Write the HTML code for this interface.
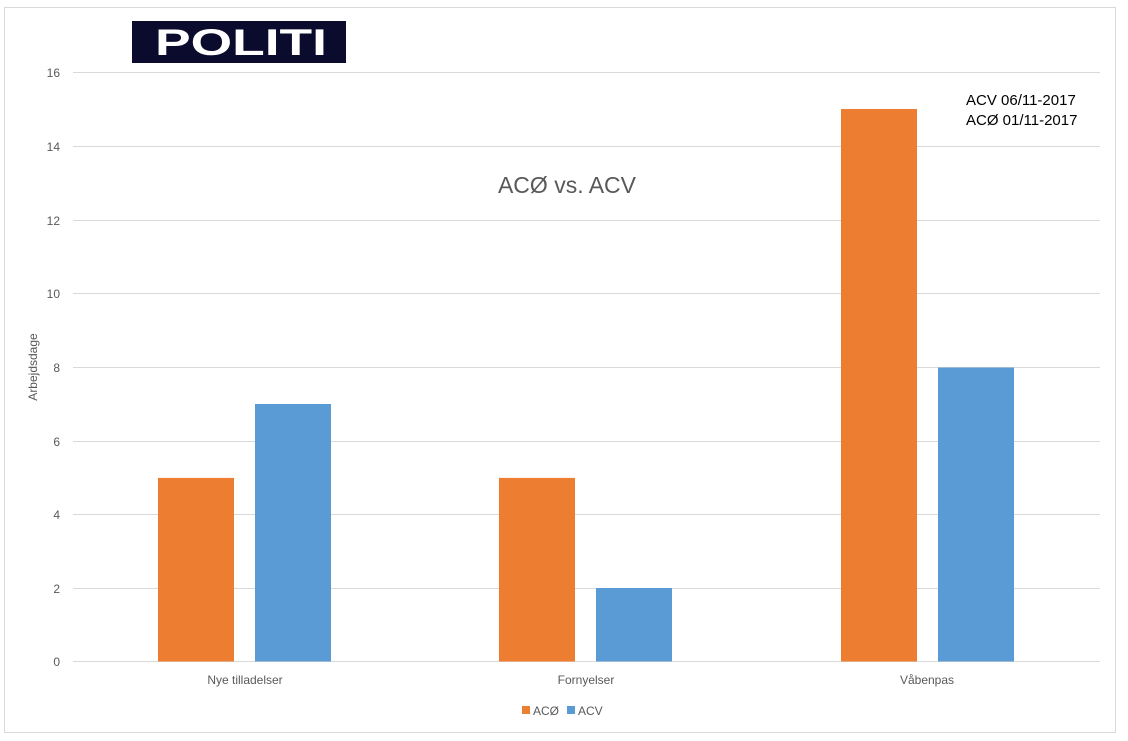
<!DOCTYPE html>
<html><head><meta charset="utf-8"><style>
body{margin:0;background:#fff;}
svg{display:block;font-family:"Liberation Sans",sans-serif;}
</style></head><body>
<svg width="1128" height="741" xmlns="http://www.w3.org/2000/svg">
<rect x="4.5" y="7.5" width="1111" height="725" fill="#fff" stroke="#d9d9d9"/>
<rect x="132" y="21" width="214" height="42" fill="#0b0b2e"/>
<text x="155" y="55" font-size="37" font-weight="bold" fill="#fff" textLength="172" lengthAdjust="spacingAndGlyphs">POLITI</text>
<g stroke="#d9d9d9" stroke-width="1">
<line x1="73" x2="1100" y1="72.5" y2="72.5"/>
<line x1="73" x2="1100" y1="146.5" y2="146.5"/>
<line x1="73" x2="1100" y1="220.5" y2="220.5"/>
<line x1="73" x2="1100" y1="293.5" y2="293.5"/>
<line x1="73" x2="1100" y1="367.5" y2="367.5"/>
<line x1="73" x2="1100" y1="441.5" y2="441.5"/>
<line x1="73" x2="1100" y1="514.5" y2="514.5"/>
<line x1="73" x2="1100" y1="588.5" y2="588.5"/>
<line x1="73" x2="1100" y1="661.5" y2="661.5"/>
</g>
<g font-size="12" fill="#595959" text-anchor="end">
<text x="60" y="77">16</text><text x="60" y="151">14</text><text x="60" y="225">12</text>
<text x="60" y="298">10</text><text x="60" y="372">8</text><text x="60" y="446">6</text>
<text x="60" y="519">4</text><text x="60" y="593">2</text><text x="60" y="666">0</text>
</g>
<text transform="translate(37,367) rotate(-90)" text-anchor="middle" font-size="12" fill="#595959">Arbejdsdage</text>
<g fill="#ed7d31">
<rect x="158" y="477.9" width="76" height="183.6"/>
<rect x="499" y="477.9" width="76" height="183.6"/>
<rect x="841" y="109" width="76" height="552.5"/>
</g>
<g fill="#5b9bd5">
<rect x="255" y="404" width="76" height="257.5"/>
<rect x="596" y="588" width="76" height="73.5"/>
<rect x="938" y="367.5" width="76" height="294"/>
</g>
<g font-size="12" fill="#595959" text-anchor="middle">
<text x="245" y="684">Nye tilladelser</text>
<text x="586" y="684">Fornyelser</text>
<text x="927" y="684">Våbenpas</text>
</g>
<text x="567" y="193" text-anchor="middle" font-size="23" fill="#595959">ACØ vs. ACV</text>
<text x="966" y="105" font-size="15" fill="#000">ACV 06/11-2017</text>
<text x="966" y="125" font-size="15" fill="#000">ACØ 01/11-2017</text>
<rect x="522" y="706" width="8" height="8" fill="#ed7d31"/>
<text x="533" y="715" font-size="12" fill="#595959">ACØ</text>
<rect x="567" y="706" width="8" height="8" fill="#5b9bd5"/>
<text x="578" y="715" font-size="12" fill="#595959">ACV</text>
</svg>
</body></html>
